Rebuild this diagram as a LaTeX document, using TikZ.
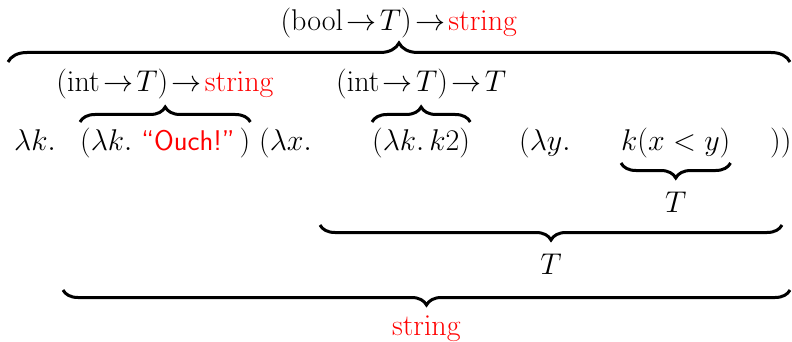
\RequirePackage{fix-cm}
\documentclass[tikz,border=0pt]{standalone}
\usepackage{amsmath}
\usetikzlibrary{decorations.pathreplacing,calc}

\begin{document}
\begin{tikzpicture}[
  x=1pt,y=-1pt,
  font=\fontsize{30}{36}\selectfont,
  tok/.style={anchor=base west,inner sep=0pt},
  ty/.style={inner sep=0pt},
  brace/.style={decorate,decoration={brace,amplitude=15pt},line width=3pt},
  bigbrace/.style={brace,decoration={brace,amplitude=19pt}},
]
\useasboundingbox (0,0) rectangle (792,342);

% the term
\node[tok] (lk) at (14,150) {$\lambda k.$};
\node[tok] (ouch) at (80,150) {$(\lambda k.\ \text{\fontsize{28.5}{32}\selectfont\textsf{\color{red}``Ouch!''}}\,)$};
\node[tok] (lx) at (259,150) {$(\lambda x.$};
\node[tok] (kk) at (372,150) {$(\lambda k.\,k2)$};
\node[tok] (ly) at (519,150) {$(\lambda y.$};
\node[tok] (app) at (621,150) {$k(x<y)$};
\node[tok] (close) at (770,150) {$))$};

% over braces
\draw[bigbrace] (8,62) -- (790,62) node[ty,midway,above=23pt] (tyall) {$(\mathrm{bool}\!\to\! T)\!\to\!\textcolor{red}{\mathrm{string}}$};
\draw[brace] (ouch.base west |- 0,122) -- (ouch.base east |- 0,122) node[ty,midway,above=22pt] (tyouch) {$(\mathrm{int}\!\to\! T)\!\to\!\textcolor{red}{\mathrm{string}}$};
\draw[brace] (kk.base west |- 0,122) -- (kk.base east |- 0,122) node[ty,midway,above=22pt] (tykk) {$(\mathrm{int}\!\to\! T)\!\to\! T$};

% under braces
\draw[brace] (app.base east |- 0,163) -- (app.base west |- 0,163) node[ty,midway,below=27pt] (tyapp) {$T$};
\draw[brace] (782,225) -- (320,225) node[ty,midway,below=27pt] (tyly) {$T$};
\draw[brace] (790,290) -- (63,290) node[ty,midway,below=24pt] (tylx) {\color{red}$\mathrm{string}$};
\end{tikzpicture}
\end{document}
